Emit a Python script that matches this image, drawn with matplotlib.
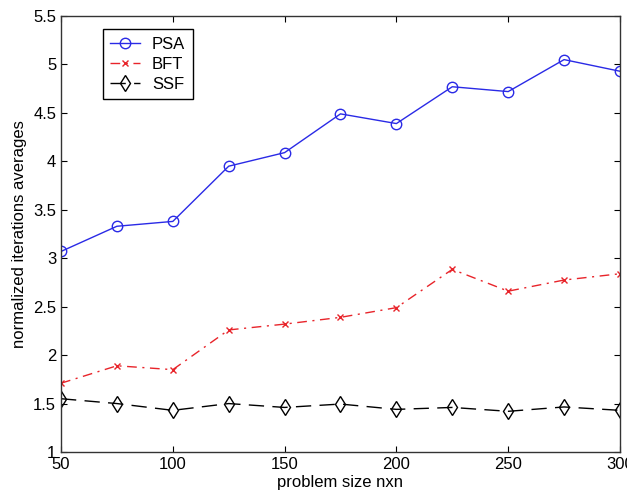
import matplotlib
matplotlib.use("Agg")
import matplotlib.pyplot as plt

plt.rcParams['font.family'] = ['Liberation Sans', 'DejaVu Sans']

sizes = [50, 75, 100, 125, 150, 175, 200, 225, 250, 275, 300]
psa = [3.07, 3.33, 3.38, 3.95, 4.09, 4.49, 4.39, 4.77, 4.72, 5.05, 4.93]
bft = [1.71, 1.89, 1.85, 2.26, 2.32, 2.39, 2.49, 2.885, 2.66, 2.775, 2.84]
ssf = [1.55, 1.50, 1.43, 1.50, 1.46, 1.495, 1.44, 1.46, 1.42, 1.465, 1.43]

xticks = [50, 100, 150, 200, 250, 300]
yticks = [1, 1.5, 2, 2.5, 3, 3.5, 4, 4.5, 5, 5.5]
yticklabels = ['1', '1.5', '2', '2.5', '3', '3.5', '4', '4.5', '5', '5.5']

fig = plt.figure(figsize=(6.27, 4.96), dpi=100)
ax = fig.add_axes([0.0973, 0.0887, 0.8915, 0.879])

ax.plot(sizes, psa, color='#2a2ae6', lw=1.0, marker='o', ms=7.5, mfc='none', mew=1.0, label='PSA')
ax.plot(sizes, bft, color='#e8242a', lw=1.0, ls=(0, (7, 4, 1.5, 4)), marker='x', ms=5, mew=1.0, label='BFT')
ax.plot(sizes, ssf, color='black', lw=1.0, ls=(0, (11, 6)), marker='d', ms=8.5, mfc='none', mew=1.0, label='SSF')

ax.set_xlim(50, 300)
ax.set_ylim(1, 5.5)
ax.set_xticks(xticks)
ax.set_xticklabels([str(t) for t in xticks])
ax.set_yticks(yticks)
ax.set_yticklabels(yticklabels)
ax.tick_params(direction='in', top=True, right=True, labelsize=12, length=4.5, pad=3.5)
for s in ax.spines.values():
    s.set_linewidth(1.0)
    s.set_color('#333333')
ax.set_xlabel('problem size nxn', fontsize=12, labelpad=2)
ax.set_ylabel('normalized iterations averages', fontsize=12, labelpad=4)

leg = ax.legend(loc='upper left', bbox_to_anchor=(0.075, 0.97), fancybox=False, framealpha=1,
                edgecolor='black', fontsize=12, handlelength=1.8, handletextpad=0.7,
                borderpad=0.45, labelspacing=0.3, borderaxespad=0)
leg.get_frame().set_linewidth(1.0)

fig.savefig('out.png', dpi=100)
